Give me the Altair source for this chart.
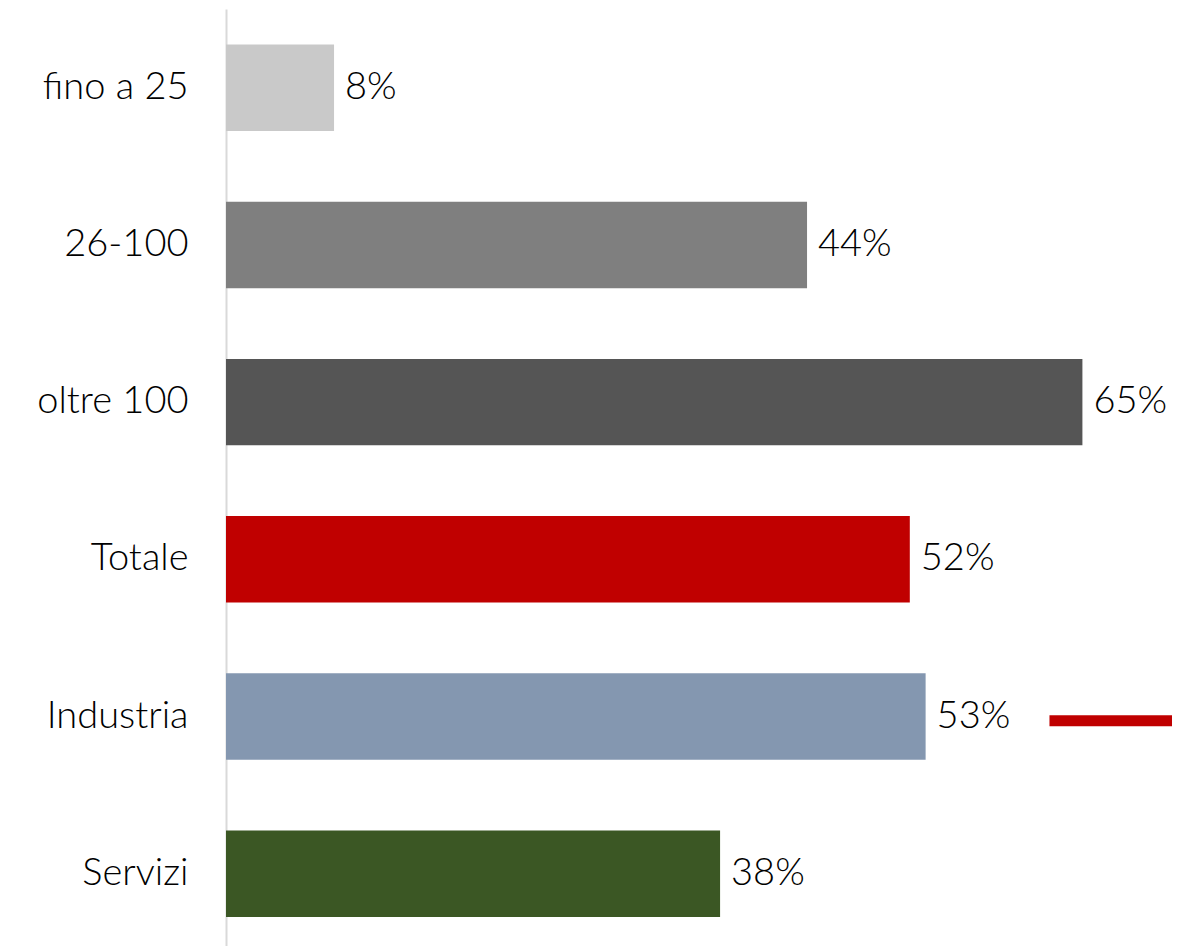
import altair as alt
import pandas as pd

categories = ["fino a 25", "26-100", "oltre 100", "Totale", "Industria", "Servizi"]
values = [8.2, 44.1, 65.0, 51.9, 53.1, 37.5]
labels = ["8%", "44%", "65%", "52%", "53%", "38%"]
colors = ["#C9C9C9", "#7F7F7F", "#555555", "#C00000", "#8497B0", "#3B5724"]

# short red reference segment beside "Industria"
ref_category = ["Industria"]
ref_start = [62.5]
ref_end = [73.0]

df = pd.DataFrame({"cat": categories, "val": values, "lab": labels, "col": colors})
ref = pd.DataFrame({"cat": ref_category, "x1": ref_start, "x2": ref_end})

FONT = "Lato"
FS = 38
FW = 300

y = alt.Y("cat:N", sort=categories,
          scale=alt.Scale(paddingInner=0.45, paddingOuter=0.205, align=0.55),
          axis=alt.Axis(title=None, labelFont=FONT, labelFontSize=FS, labelFontWeight=FW,
                        labelColor="#000000",
                        labelPadding=38, ticks=False, domainColor="#D9D9D9", domainWidth=2,
                        labelLimit=300, grid=False))
x = alt.X("val:Q", scale=alt.Scale(domain=[0, 71.8], nice=False), axis=None)

bars = alt.Chart(df).mark_bar().encode(
    y=y, x=x, color=alt.Color("col:N", scale=None))

text = alt.Chart(df).mark_text(align="left", baseline="middle", dx=11,
                               font=FONT, fontSize=FS, fontWeight=FW,
                               color="#000000").encode(
    y=alt.Y("cat:N", sort=categories), x="val:Q", text="lab:N")

refline = alt.Chart(ref).mark_rule(color="#C00000", strokeWidth=11, clip=False).encode(
    y=alt.Y("cat:N", sort=categories, bandPosition=0.55), x="x1:Q", x2="x2:Q")

chart = alt.layer(bars, text, refline).properties(
    width=946, height=937,
    background="#FFFFFF",
    autosize=alt.AutoSizeParams(type="none"),
    padding={"left": 218, "top": 1, "right": 0, "bottom": 0},
).configure_view(stroke=None)

chart.save("out.html", embed_options={"renderer": "svg", "actions": False})
